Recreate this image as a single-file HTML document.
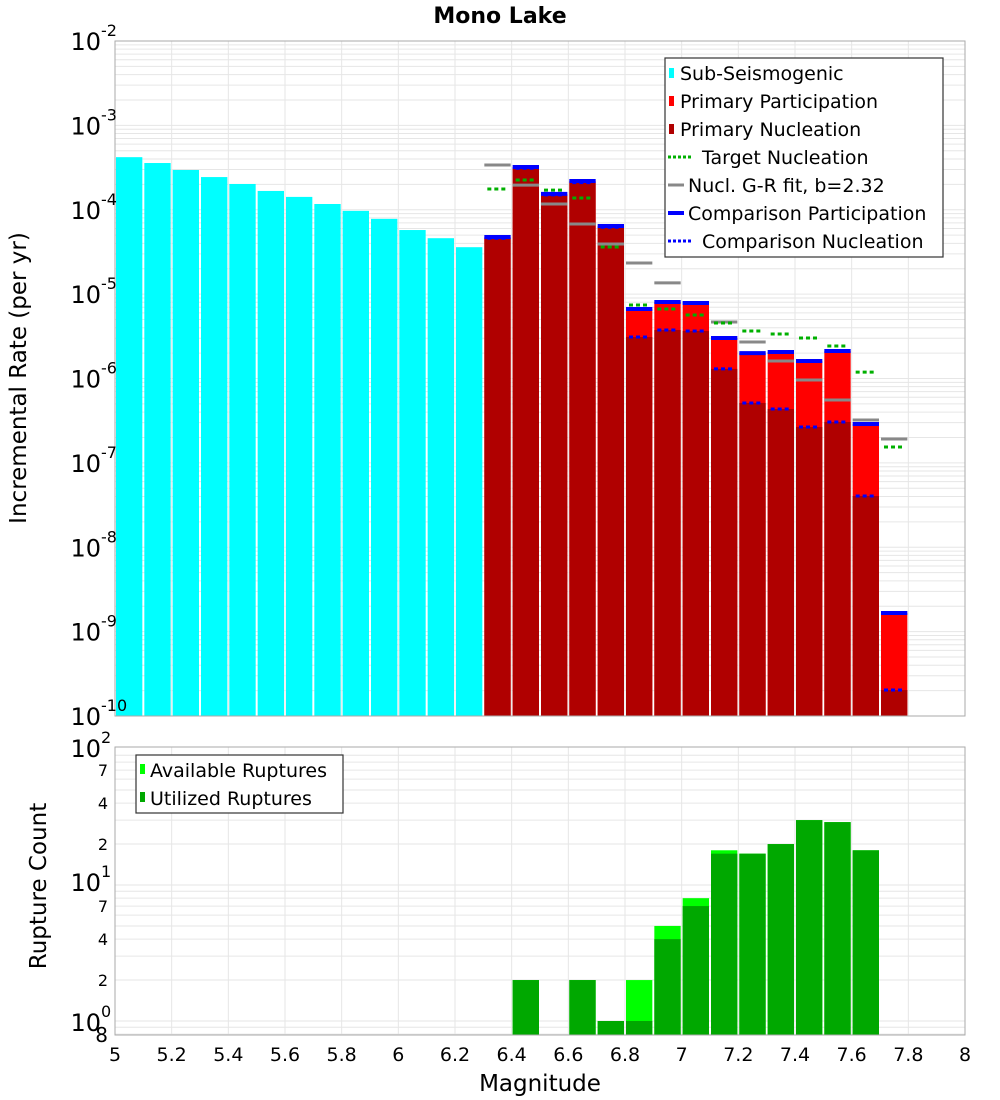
<!DOCTYPE html>
<html><head><meta charset="utf-8"><style>
body{margin:0;background:#fff;}
svg{display:block;font-family:"DejaVu Sans","Liberation Sans",sans-serif;}
</style></head><body>
<svg id="chart" width="1000" height="1100" viewBox="0 0 1000 1100" xmlns="http://www.w3.org/2000/svg">
<rect width="1000" height="1100" fill="#fff"/>
<text x="500" y="23" text-anchor="middle" font-size="22" font-weight="bold">Mono Lake</text>
<g id="top-grid"></g><g id="top-bars"></g><g id="top-lines"></g>
<rect x="115" y="41" width="850" height="675" fill="none" stroke="#aaa" stroke-width="1"/>
<g id="top-yticks"></g>
<g id="bot-grid"></g><g id="bot-bars"></g>
<rect x="115" y="747" width="850" height="288" fill="none" stroke="#aaa" stroke-width="1"/>
<g id="bot-yticks"></g><g id="xticks"></g>
<text transform="translate(26,378) rotate(-90)" text-anchor="middle" font-size="23">Incremental Rate (per yr)</text>
<text transform="translate(46,886) rotate(-90)" text-anchor="middle" font-size="23">Rupture Count</text>
<text x="540" y="1091" text-anchor="middle" font-size="23">Magnitude</text>
<g>
<rect x="665" y="58" width="278" height="199" fill="#fff" stroke="#333" stroke-width="1.2"/>
<rect x="669" y="68" width="5" height="10" fill="#00ffff"/><text x="680" y="80" font-size="19">Sub-Seismogenic</text>
<rect x="669" y="96" width="5" height="10" fill="#ff0000"/><text x="680" y="108" font-size="19">Primary Participation</text>
<rect x="669" y="124" width="5" height="10" fill="#b00000"/><text x="680" y="136" font-size="19">Primary Nucleation</text>
<line x1="668" y1="157" x2="693" y2="157" stroke="#00b000" stroke-width="3" stroke-dasharray="3,2"/><text x="702" y="164" font-size="19">Target Nucleation</text>
<line x1="668" y1="185" x2="684" y2="185" stroke="#888" stroke-width="3"/><text x="688" y="192" font-size="19">Nucl. G-R fit, b=2.32</text>
<line x1="668" y1="213" x2="684" y2="213" stroke="#0000ff" stroke-width="4"/><text x="688" y="220" font-size="19">Comparison Participation</text>
<line x1="668" y1="241" x2="693" y2="241" stroke="#0000ff" stroke-width="3" stroke-dasharray="3,2"/><text x="702" y="248" font-size="19">Comparison Nucleation</text>
</g>
<g>
<rect x="136" y="755" width="207" height="58" fill="#fff" stroke="#333" stroke-width="1.2"/>
<rect x="140" y="764" width="5" height="10" fill="#00ff00"/><text x="150" y="777" font-size="19">Available Ruptures</text>
<rect x="140" y="792" width="5" height="10" fill="#00a800"/><text x="150" y="805" font-size="19">Utilized Ruptures</text>
</g>
</svg>
<script>
const subMags=[5.05,5.15,5.25,5.35,5.45,5.55,5.65,5.75,5.85,5.95,6.05,6.15,6.25];
const subRates=[4.2e-4,3.58e-4,2.96e-4,2.44e-4,2.02e-4,1.67e-4,1.42e-4,1.17e-4,9.7e-5,7.8e-5,5.75e-5,4.6e-5,3.6e-5];
const primMags=[6.35,6.45,6.55,6.65,6.75,6.85,6.95,7.05,7.15,7.25,7.35,7.45,7.55,7.65,7.75];
const partRates=[4.75e-5,3.21e-4,1.54e-4,2.19e-4,6.42e-5,6.67e-6,8.07e-6,7.85e-6,3.02e-6,2.0e-6,2.06e-6,1.61e-6,2.12e-6,2.89e-7,1.66e-9];
const nuclRates=[4.6e-5,3.1e-4,1.5e-4,2.1e-4,6.2e-5,3.1e-6,3.76e-6,3.66e-6,1.3e-6,5.13e-7,4.35e-7,2.66e-7,3.05e-7,4.05e-8,2.03e-10];
const targetRates=[1.76e-4,2.25e-4,1.71e-4,1.38e-4,3.62e-5,7.43e-6,6.67e-6,5.66e-6,4.55e-6,3.66e-6,3.37e-6,3.02e-6,2.43e-6,1.19e-6,1.54e-7];
const grRates=[3.39e-4,1.96e-4,1.17e-4,6.78e-5,3.93e-5,2.34e-5,1.36e-5,7.85e-6,4.67e-6,2.71e-6,1.61e-6,9.6e-7,5.56e-7,3.22e-7,1.92e-7];
const countMags=[6.45,6.65,6.75,6.85,6.95,7.05,7.15,7.25,7.35,7.45,7.55,7.65];
const availCounts=[2,2,1,2,5,8,18,17,20,30,29,18];
const usedCounts=[2,2,1,1,4,7,17,17,20,30,29,18];
const xTicks=[5,5.2,5.4,5.6,5.8,6,6.2,6.4,6.6,6.8,7,7.2,7.4,7.6,7.8,8];
const topDecades=[-2,-3,-4,-5,-6,-7,-8,-9,-10];

const NS="http://www.w3.org/2000/svg";
function X(m){return 115+(m-5)*850/3;}
function Yt(v){return 41+(-2-Math.log10(v))*84.375;}
function Yb(v){return 1021-Math.log10(v)*136;}
function mk(parent,tag,attrs){const e=document.createElementNS(NS,tag);for(const k in attrs)e.setAttribute(k,attrs[k]);document.getElementById(parent).appendChild(e);return e;}

// grids
for(let m=5.2;m<7.99;m+=0.2){
  let g=mk('top-grid','line',{x1:X(m),x2:X(m),y1:41,y2:716,stroke:'#e6e6e6'});
  
  
  let h=mk('bot-grid','line',{x1:X(m),x2:X(m),y1:747,y2:1035,stroke:'#e6e6e6'});
  
  
}
for(let d=-10;d<-2;d++){for(let k=1;k<10;k++){const y=Yt(k*Math.pow(10,d));
  let g=mk('top-grid','line',{x1:115,x2:965,y1:y,y2:y,stroke:'#e6e6e6'});
  
  }}
for(let d=-1;d<2;d++){for(let k=1;k<10;k++){const y=Yb(k*Math.pow(10,d));if(y<747||y>1035)continue;
  let g=mk('bot-grid','line',{x1:115,x2:965,y1:y,y2:y,stroke:'#e6e6e6'});
  
  }}

function bar(grp,m,top,bottom,fill,name){
  const r=mk(grp,'rect',{x:X(m-0.05)+1,y:top,width:X(m+0.05)-X(m-0.05)-2,height:Math.max(0,bottom-top),fill:fill});
  
  
}
subMags.forEach((m,i)=>bar('top-bars',m,Yt(subRates[i]),716,'#00ffff','sub-seismogenic-bar'));
primMags.forEach((m,i)=>bar('top-bars',m,Yt(partRates[i]),716,'#ff0000','participation-bar'));
primMags.forEach((m,i)=>bar('top-bars',m,Yt(nuclRates[i]),716,'#b00000','nucleation-bar'));
function seg(m,v,color,w,dash,name){
  const a={x1:X(m-0.05)+1,x2:X(m+0.05)-1,y1:Yt(v),y2:Yt(v),stroke:color,'stroke-width':w};
  if(dash){a['stroke-dasharray']='4,3';a.x1+=3;a.x2-=3;}
  const l=mk('top-lines','line',a);
  
  
}
primMags.forEach((m,i)=>seg(m,grRates[i],'#888',3,false,'gr-fit-line'));
primMags.forEach((m,i)=>seg(m,targetRates[i],'#00b000',3,true,'target-nucleation-line'));
primMags.forEach((m,i)=>seg(m,partRates[i],'#0000ff',4,false,'comparison-participation-line'));
primMags.forEach((m,i)=>seg(m,nuclRates[i],'#0000ff',3,true,'comparison-nucleation-line'));

countMags.forEach((m,i)=>bar('bot-bars',m,Yb(availCounts[i]),1035,'#00ff00','available-ruptures-bar'));
countMags.forEach((m,i)=>bar('bot-bars',m,Yb(usedCounts[i]),1035,'#00a800','utilized-ruptures-bar'));

// tick labels
function decLabel(grp,y,exp,name){
  const t=mk(grp,'text',{x:101,y:y,'text-anchor':'end','font-size':24});
  t.textContent='10';
  
  
  const s=mk(grp,'text',{x:101,y:y-14,'font-size':16});
  s.textContent=exp;
  
  
}
topDecades.forEach(d=>decLabel('top-yticks',Yt(Math.pow(10,d))+9,String(d),'top-y-tick-label'));
decLabel('bot-yticks',757,'2','bottom-y-tick-label');
decLabel('bot-yticks',891,'1','bottom-y-tick-label');
decLabel('bot-yticks',1031,'0','bottom-y-tick-label');
[[70,'7'],[40,'4'],[20,'2'],[7,'7'],[4,'4'],[2,'2']].forEach(p=>{
  const t=mk('bot-yticks','text',{x:108,y:Yb(p[0])+6,'text-anchor':'end','font-size':16});
  t.textContent=p[1];
  
  
});
{const t=mk('bot-yticks','text',{x:108,y:1042,'text-anchor':'end','font-size':20});t.textContent='8';

}
xTicks.forEach(m=>{
  const t=mk('xticks','text',{x:X(m),y:1061,'text-anchor':'middle','font-size':19});
  t.textContent=String(m);
  
  
});
</script>
</body></html>
